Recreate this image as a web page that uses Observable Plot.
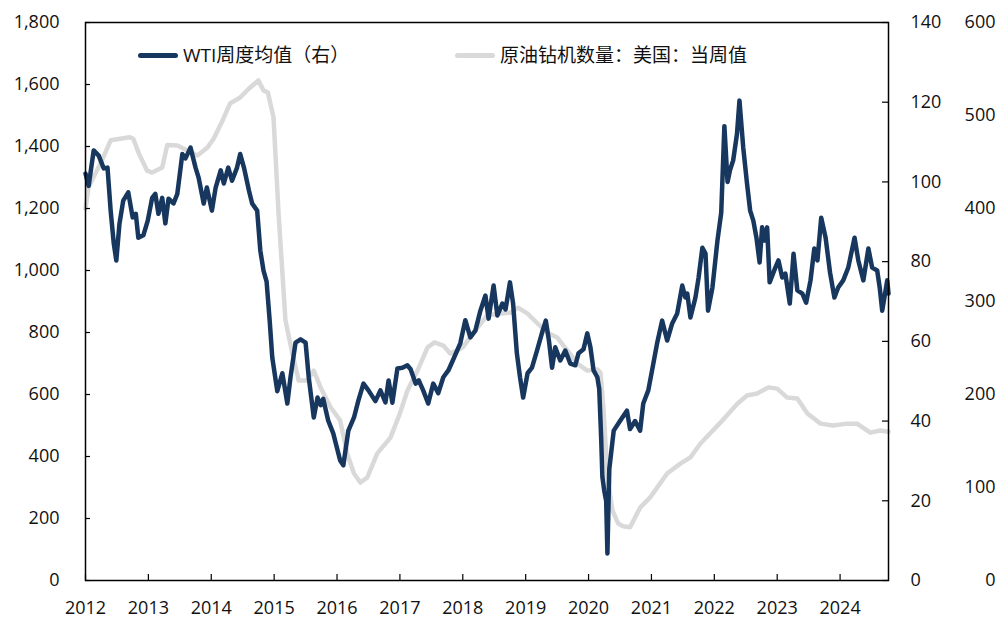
<!DOCTYPE html>
<html><head><meta charset="utf-8">
<script src="https://cdn.jsdelivr.net/npm/d3@7"></script>
<script src="https://cdn.jsdelivr.net/npm/@observablehq/plot@0.6"></script>
<style>
html,body{margin:0;padding:0;background:#fff;}
#wrap{position:relative;width:998px;height:618px;font-family:"Open Sans","Noto Sans CJK SC",sans-serif;}
.legend{position:absolute;top:42px;font-size:19px;line-height:26px;color:#111;display:flex;align-items:center;white-space:nowrap;}
.sw{display:inline-block;width:40px;height:5px;margin-right:5px;border-radius:2.5px}
</style></head><body><div id="wrap"></div>
<script>
// Legend labels
const wtiLabel = "WTI周度均值（右）";
const rigLabel = "原油钻机数量：美国：当周值";

// WTI weekly average (right axis, USD), time in decimal years
const wtiT = [2012.00,2012.05,2012.13,2012.21,2012.29,2012.35,2012.40,2012.45,2012.49,2012.54,2012.60,2012.68,2012.75,2012.80,2012.84,2012.92,2012.99,
2013.06,2013.11,2013.16,2013.22,2013.27,2013.32,2013.40,2013.46,2013.54,2013.59,2013.67,2013.75,2013.80,2013.88,2013.93,
2014.01,2014.07,2014.15,2014.20,2014.27,2014.33,2014.41,2014.46,2014.52,2014.60,2014.65,2014.73,2014.78,2014.83,2014.88,2014.93,2014.97,
2015.05,2015.13,2015.21,2015.26,2015.34,2015.42,2015.50,2015.55,2015.63,2015.69,2015.74,2015.78,2015.86,2015.94,
2016.05,2016.10,2016.18,2016.27,2016.34,2016.42,2016.50,2016.61,2016.69,2016.77,2016.82,2016.88,2016.96,
2017.04,2017.12,2017.17,2017.25,2017.30,2017.37,2017.45,2017.53,2017.61,2017.69,2017.77,2017.85,2017.96,
2018.04,2018.12,2018.20,2018.28,2018.36,2018.41,2018.49,2018.55,2018.63,2018.68,2018.75,2018.80,2018.86,2018.91,2018.96,
2019.03,2019.10,2019.18,2019.27,2019.32,2019.37,2019.42,2019.47,2019.55,2019.63,2019.71,2019.79,2019.84,2019.92,2019.98,
2020.03,2020.08,2020.14,2020.17,2020.20,2020.22,2020.25,2020.28,2020.30,2020.33,2020.40,2020.50,2020.61,2020.66,2020.74,2020.82,2020.87,2020.95,
2021.01,2021.09,2021.17,2021.25,2021.33,2021.41,2021.49,2021.54,2021.57,2021.62,2021.70,2021.75,2021.81,2021.86,2021.90,2021.97,
2022.05,2022.11,2022.16,2022.21,2022.25,2022.30,2022.36,2022.40,2022.46,2022.52,2022.57,2022.62,2022.67,2022.72,2022.76,2022.80,2022.84,2022.88,2022.97,
2023.02,2023.08,2023.13,2023.20,2023.26,2023.32,2023.40,2023.46,2023.53,2023.59,2023.64,2023.70,2023.77,2023.84,2023.91,2023.97,
2024.05,2024.13,2024.23,2024.29,2024.37,2024.45,2024.51,2024.59,2024.63,2024.67,2024.75,2024.77];
const wtiV = [102.1,99,107.9,106.6,103.4,103.6,92.8,84.5,80.3,89.5,95.3,97.4,91.1,92,86,86.6,90.3,
96,97,92,96,89.6,95.8,94.6,97,107,105.9,108.6,103.6,101,94.6,98.6,
92.8,98.6,102.9,99.6,103.6,100.3,103.6,107,103.6,97.8,94.6,92.8,82.8,77.8,75,65,56,
47.5,52,44.4,51,59.7,60.5,59.7,51,40.9,45.9,44,45.6,40.1,36.9,
30.1,28.9,37.6,40.9,45.2,49.4,47.7,45,47.7,44.7,50.2,44.6,53.2,
53.4,54,53,49.4,50.2,47.7,44.4,49.4,47,51,52.7,55.5,59.5,
65.3,61,62.7,67.7,71.5,65.7,74,66.5,69.5,68,74.8,69.5,57,51,45.9,
52,53.4,57.7,62.7,65.2,60.2,53.4,58.5,55.2,57.7,54.4,54,57,58,62,
58.5,52.7,51,48,36,26,22.5,20,6.8,28,37.6,40,42.6,38,40,37.6,44.4,47.7,
52.7,59.5,65.2,60.2,64.5,67,74,71,72,66,71,76,83.5,82,67.7,73.5,
85.3,92.3,114,100,103,105.4,112,120.4,108.6,99.6,92.8,90.3,86,79.8,88.6,85.3,88.6,74.8,78.5,
80.3,76,77,69.5,82,72.8,72,69.7,75.3,83.3,80.3,91,86,77.3,71,73.5,
75.3,78.5,86,80.3,75.3,83.3,78.5,77.8,73.5,67.7,75.3,72];

// US crude oil rig count (left axis), time in decimal years
const rigT = [2012.00,2012.05,2012.15,2012.25,2012.40,2012.55,2012.70,2012.76,2012.85,2012.98,
2013.06,2013.22,2013.30,2013.46,2013.62,2013.78,2013.94,
2014.04,2014.18,2014.30,2014.46,2014.60,2014.75,2014.83,2014.90,2014.99,
2015.07,2015.18,2015.29,2015.39,2015.53,2015.63,2015.74,2015.90,
2016.05,2016.16,2016.27,2016.37,2016.48,2016.64,2016.85,
2017.00,2017.12,2017.28,2017.44,2017.55,2017.69,2017.80,2017.91,
2018.00,2018.17,2018.39,2018.60,2018.76,2018.88,
2019.03,2019.19,2019.34,2019.50,2019.66,2019.82,2019.98,
2020.14,2020.19,2020.24,2020.30,2020.38,2020.47,2020.55,2020.66,2020.82,2020.98,
2021.25,2021.46,2021.62,2021.78,
2022.10,2022.37,2022.52,2022.68,2022.86,
2023.00,2023.16,2023.32,2023.48,2023.69,2023.89,
2024.11,2024.27,2024.48,2024.64,2024.77];
const rigV = [1200,1270,1310,1350,1420,1425,1430,1425,1377,1322,
1316,1332,1405,1403,1387,1371,1397,
1426,1484,1539,1558,1587,1613,1581,1574,1494,
1184,839,732,645,645,677,622,558,
516,410,345,316,332,410,461,
539,613,677,752,768,758,732,742,
752,800,855,861,864,880,
861,829,800,784,742,700,677,
681,670,548,332,226,184,175,172,235,268,
345,377,397,442,
510,571,597,603,623,
619,590,587,539,506,500,
506,506,477,484,480];

// Axis ticks
const yearTicks = [2012,2013,2014,2015,2016,2017,2018,2019,2020,2021,2022,2023,2024];
const leftTicks = [0,200,400,600,800,1000,1200,1400,1600,1800];
const wtiTicks = [0,20,40,60,80,100,120,140];
const outerTicks = [0,100,200,300,400,500,600];

const wti = wtiT.map((t,i)=>({t, v: wtiV[i]}));
const rig = rigT.map((t,i)=>({t, v: rigV[i]}));

const W = 998, H = 618, mL = 85, mR = 110, mT = 22, mB = 38;
const pw = W - mL - mR, ph = H - mT - mB;
const kW = 1800/140, kO = 1800/600;

const chart = Plot.plot({
  width: W, height: H,
  marginLeft: mL, marginRight: mR, marginTop: mT, marginBottom: mB,
  style: {fontSize: "18px", fontFamily: '"Open Sans","Noto Sans CJK SC",sans-serif', color: "#111", background: "#fff", overflow: "visible"},
  x: {type: "linear", domain: [2012, 2024.77], label: null},
  y: {domain: [0, 1800], label: null},
  marks: [
    Plot.line(rig, {x: "t", y: "v", stroke: "#d9d9d9", strokeWidth: 4.5, strokeLinejoin: "round", strokeLinecap: "round"}),
    Plot.line(wti, {x: "t", y: d => d.v * kW, stroke: "#17375e", strokeWidth: 4.5, strokeLinejoin: "round", strokeLinecap: "round"}),
    Plot.frame({stroke: "#000", strokeWidth: 1.5}),
    Plot.tickY(leftTicks, {y: d => d, insetRight: pw - 5, stroke: "#000", strokeWidth: 1.2}),
    Plot.tickY(wtiTicks, {y: d => d * kW, insetLeft: pw - 6, stroke: "#000", strokeWidth: 1.2}),
    Plot.tickX(yearTicks, {x: d => d, insetTop: ph - 6, stroke: "#000", strokeWidth: 1.2}),
    Plot.axisY(leftTicks, {anchor: "left", label: null, tickSize: 0, tickPadding: 26, tickFormat: d3.format(",")}),
    Plot.axisY(wtiTicks.map(d => d * kW), {anchor: "right", label: null, tickSize: 0, tickPadding: 22, tickFormat: d => String(Math.round(d / kW))}),
    Plot.axisY(outerTicks.map(d => d * kO), {anchor: "right", label: null, tickSize: 0, tickPadding: 107, textAnchor: "end", tickFormat: d => String(Math.round(d / kO))}),
    Plot.axisX(yearTicks, {anchor: "bottom", label: null, tickSize: 0, tickPadding: 21, tickFormat: d => String(d)})
  ]
});
const wrap = document.getElementById("wrap");
wrap.appendChild(chart);

function addLegend(left, color, label) {
  const d = document.createElement("div");
  d.className = "legend";
  d.style.left = left + "px";
  const s = document.createElement("span");
  s.className = "sw"; s.style.background = color;
  const t = document.createElement("span");
  t.textContent = label;
  d.appendChild(s); d.appendChild(t);
  wrap.appendChild(d);
}
addLegend(138, "#17375e", wtiLabel);
addLegend(455, "#d9d9d9", rigLabel);
</script></body></html>
